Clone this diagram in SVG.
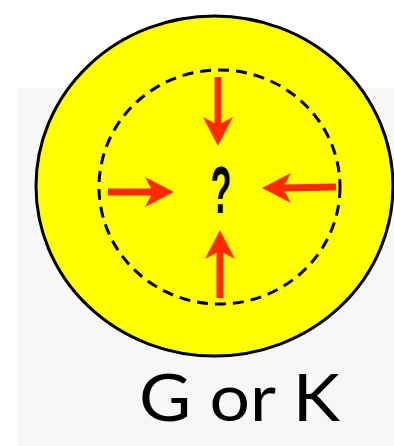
<svg xmlns="http://www.w3.org/2000/svg" width="394" height="446" viewBox="0 0 394 446">
<style>
.shaft{stroke:#ff2a00;stroke-width:7;fill:none}
.head{fill:#ff2a00}
</style>
<defs>
<path id="ah" d="M0,0 L-29,-15 L-21,0 L-29,15 Z"/>
</defs>
<rect width="394" height="446" fill="#ffffff"/>
<rect x="18" y="88" width="376" height="358" fill="#f7f7f9"/>
<g id="outer">
<ellipse cx="214.5" cy="186" rx="178.5" ry="170" fill="#ffff00" stroke="#000" stroke-width="3"/>
</g>
<g id="inner">
<ellipse cx="219.5" cy="187" rx="120.5" ry="117" fill="none" stroke="#000" stroke-width="3" stroke-dasharray="11 7"/>
</g>
<g id="connectors">
<line class="shaft" x1="218" y1="77" x2="218" y2="127"/>
<use href="#ah" class="head" transform="translate(218,146) rotate(90)"/>
<line class="shaft" x1="220" y1="298" x2="220" y2="249"/>
<use href="#ah" class="head" transform="translate(220,230) rotate(-90)"/>
<line class="shaft" x1="108" y1="192" x2="155" y2="192"/>
<use href="#ah" class="head" transform="translate(174,192)"/>
<line class="shaft" x1="336" y1="187" x2="281" y2="188"/>
<use href="#ah" class="head" transform="translate(262,188) rotate(180)"/>
</g>
<g id="question">
<text x="0" y="0" transform="translate(221,213) scale(0.52,1)" text-anchor="middle" font-family="Liberation Sans, sans-serif" font-weight="bold" font-size="66" fill="#000">?</text>
</g>
<g id="label">
<text x="139" y="421" textLength="201" lengthAdjust="spacingAndGlyphs" font-family="Lato, sans-serif" font-size="65" fill="#000">G or K</text>
</g>
</svg>
